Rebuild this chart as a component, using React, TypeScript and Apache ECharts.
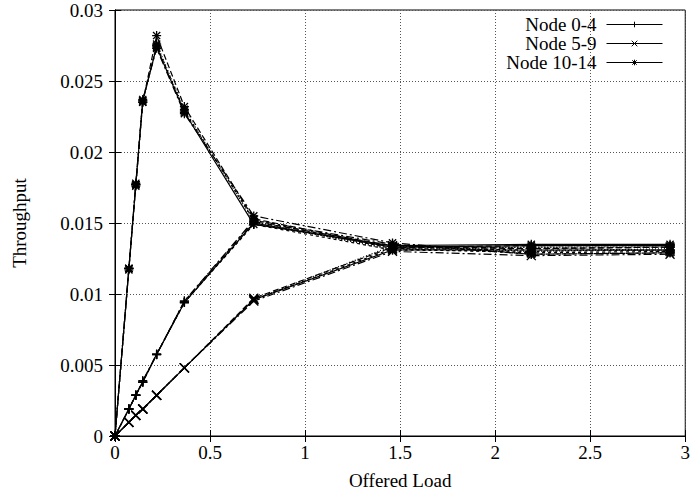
import React, { useEffect, useRef } from "react";
import * as echarts from "echarts";

const offeredLoad = [0, 0.073, 0.1095, 0.146, 0.219, 0.365, 0.73, 1.46, 2.19, 2.92];

const node0 = [0, 0.0019, 0.00287, 0.0038, 0.00575, 0.0094, 0.015, 0.0133, 0.0134, 0.0134];
const node1 = [0, 0.0019, 0.00286, 0.0038, 0.00574, 0.0095, 0.0151, 0.0134, 0.0132, 0.0133];
const node2 = [0, 0.0019, 0.00288, 0.0038, 0.00576, 0.0094, 0.0149, 0.0131, 0.013, 0.0131];
const node3 = [0, 0.0019, 0.00287, 0.0039, 0.00573, 0.0095, 0.0152, 0.0135, 0.0128, 0.0129];
const node4 = [0, 0.0019, 0.00288, 0.0038, 0.00575, 0.0094, 0.015, 0.0132, 0.0133, 0.013];

const node5 = [0, 0.00096, 0.00145, 0.0019, 0.00287, 0.0048, 0.0096, 0.0131, 0.0131, 0.0131];
const node6 = [0, 0.00096, 0.00144, 0.0019, 0.00288, 0.0048, 0.0097, 0.0133, 0.0132, 0.0133];
const node7 = [0, 0.00097, 0.00145, 0.0019, 0.00287, 0.0048, 0.0096, 0.0132, 0.0129, 0.013];
const node8 = [0, 0.00096, 0.00145, 0.0019, 0.00286, 0.0048, 0.0095, 0.013, 0.0127, 0.0128];
const node9 = [0, 0.00096, 0.00146, 0.0019, 0.00287, 0.0048, 0.0096, 0.0134, 0.013, 0.0132];

const node10 = [0, 0.0118, 0.0177, 0.0236, 0.0274, 0.0228, 0.0149, 0.0134, 0.0135, 0.0135];
const node11 = [0, 0.0118, 0.0176, 0.0235, 0.0282, 0.0232, 0.0153, 0.0133, 0.0134, 0.0134];
const node12 = [0, 0.0117, 0.0177, 0.0236, 0.0275, 0.0229, 0.0152, 0.0132, 0.0131, 0.0131];
const node13 = [0, 0.0118, 0.0178, 0.0237, 0.0273, 0.0227, 0.0155, 0.0136, 0.0128, 0.0129];
const node14 = [0, 0.0118, 0.0177, 0.0235, 0.0276, 0.023, 0.0151, 0.0131, 0.0133, 0.0133];

const groupNames = ["Node 0-4", "Node 5-9", "Node 10-14"];
const groups = [
  [node0, node1, node2, node3, node4],
  [node5, node6, node7, node8, node9],
  [node10, node11, node12, node13, node14],
];

const FONT = '"Liberation Serif", "Times New Roman", serif';
const symbols = [
  "path://M0,5L10,5M5,0L5,10",
  "path://M0,0L10,10M10,0L0,10",
  "path://M0,5L10,5M5,0L5,10M1,1L9,9M9,1L1,9",
];
const symbolSizes = [9, 9, 9];
const dashes: any[] = ["solid", [6, 3], [3, 3], [8, 3, 2, 3], [1, 2]];

export default function App() {
  const ref = useRef<HTMLDivElement>(null);
  useEffect(() => {
    if (!ref.current) return;
    const chart = echarts.init(ref.current, undefined, { renderer: "svg" });
    const series: any[] = [];
    groups.forEach((g, gi) => {
      g.forEach((arr, ni) => {
        series.push({
          type: "line",
          name: ni === 0 ? groupNames[gi] : `Node ${gi * 5 + ni}`,
          data: offeredLoad.map((x, i) => [x, arr[i]]),
          symbol: symbols[gi],
          symbolSize: symbolSizes[gi],
          showAllSymbol: true,
          symbolKeepAspect: true,
          lineStyle: { color: "#000", width: 1.2, type: dashes[ni] },
          itemStyle: { color: "#000", borderColor: "#000", borderWidth: 1.3 },
          emphasis: { disabled: true },
          z: 10 - ni,
        });
      });
    });
    const axisText = { fontFamily: FONT, fontSize: 19, color: "#000" };
    chart.setOption({
      animation: false,
      backgroundColor: "#fff",
      grid: {
        left: 115,
        top: 10,
        right: 4,
        bottom: 60,
        show: true,
        borderColor: "#000",
        borderWidth: 1,
      },
      legend: {
        data: groupNames,
        orient: "vertical",
        align: "right",
        right: 25,
        top: 10,
        itemWidth: 56,
        itemHeight: 7,
        itemGap: 0,
        lineStyle: { width: 1 },
        itemStyle: { borderWidth: 1 },
        textStyle: {
          fontFamily: FONT,
          fontSize: 19,
          lineHeight: 19,
          color: "#000",
          padding: [0, 5, 0, 0],
        },
        selectedMode: false,
      },
      xAxis: [
        {
          type: "value",
          min: 0,
          max: 3,
          interval: 0.5,
          name: "Offered Load",
          nameLocation: "middle",
          nameGap: 35,
          nameTextStyle: axisText,
          axisLine: { show: true, lineStyle: { color: "#000" } },
          axisTick: { show: true, inside: true, length: 6, lineStyle: { color: "#000" } },
          axisLabel: { ...axisText, margin: 7 },
          splitLine: { show: true, lineStyle: { color: "#555", type: [1, 2], width: 1 } },
        },
        {
          type: "value",
          position: "top",
          min: 0,
          max: 3,
          interval: 0.5,
          axisLine: { show: true, lineStyle: { color: "#000" } },
          axisTick: { show: true, inside: true, length: 6, lineStyle: { color: "#000" } },
          axisLabel: { show: false },
          splitLine: { show: false },
        },
      ],
      yAxis: [
        {
          type: "value",
          min: 0,
          max: 0.03,
          interval: 0.005,
          name: "Throughput",
          nameLocation: "middle",
          nameGap: 86,
          nameTextStyle: axisText,
          axisLine: { show: true, lineStyle: { color: "#000" } },
          axisTick: { show: true, inside: true, length: 6, lineStyle: { color: "#000" } },
          axisLabel: {
            ...axisText,
            margin: 12,
            formatter: (v: number) => String(+v.toFixed(3)),
          },
          splitLine: { show: true, lineStyle: { color: "#555", type: [1, 2], width: 1 } },
        },
        {
          type: "value",
          position: "right",
          min: 0,
          max: 0.03,
          interval: 0.005,
          axisLine: { show: true, lineStyle: { color: "#000" } },
          axisTick: { show: true, inside: true, length: 6, lineStyle: { color: "#000" } },
          axisLabel: { show: false },
          splitLine: { show: false },
        },
      ],
      series,
    });
    return () => chart.dispose();
  }, []);
  return (
    <div
      ref={ref}
      style={{ position: "fixed", left: 0, top: 0, width: 693, height: 496, background: "#fff" }}
    />
  );
}
